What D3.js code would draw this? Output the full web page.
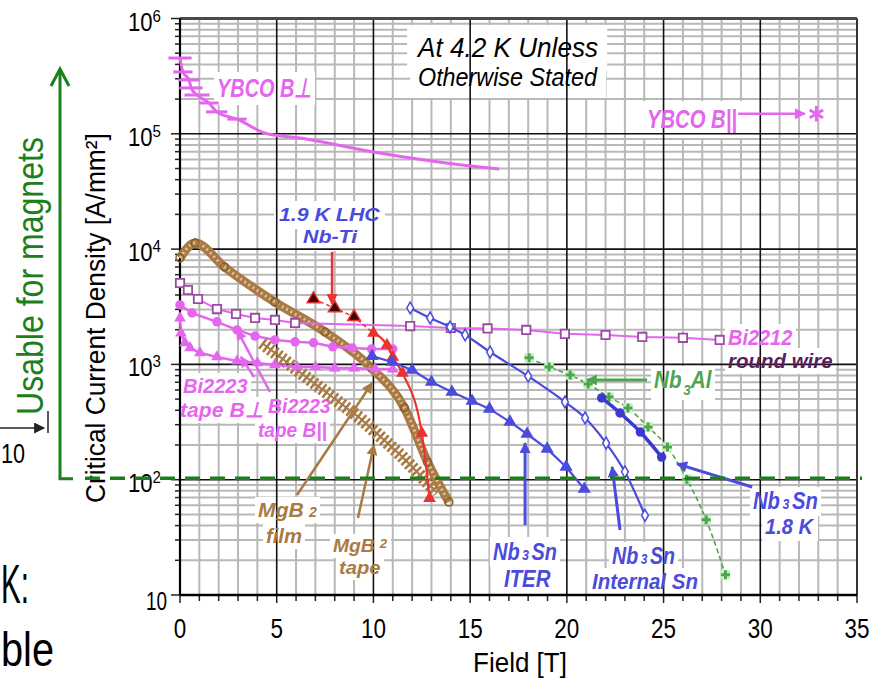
<!DOCTYPE html>
<html>
<head>
<meta charset="utf-8" />
<title>Critical current density vs field</title>
<script src="https://d3js.org/d3.v7.min.js"></script>
<style>
  body { margin: 0; background: #fff; }
  svg { display: block; }
</style>
</head>
<body>
<svg id="chart" width="880" height="678"></svg>
<script>
// values: field in T, Jc in A/mm2
var ybcoPerpField = [0, 0.15, 0.47, 0.57, 0.88, 1.5, 1.9, 2.95, 4.5, 6.2, 10, 15, 16.5];
var ybcoPerpJc = [454000, 344000, 293000, 250000, 217000, 185000, 155000, 134000, 100000, 92000, 69500, 52600, 49500];
var ybcoPerpErr = [0.6, 0.5, 0.55, 0.6, 0.65, 0.5, 0.55, 0.5];
var ybcoParField = [32.9];
var ybcoParJc = [149000];

var nbti19Field = [6.9, 8.0, 9.0];
var nbti19Jc = [3690, 3080, 2580];
var nbti42Field = [10.0, 10.7, 11.0, 11.5, 12.5, 12.9];
var nbti42Jc = [1870, 1470, 1160, 840, 254, 69];

var bi2212Field = [0, 0.41, 0.93, 1.91, 2.9, 3.88, 4.91, 5.95, 11.9, 14.0, 15.9, 17.9, 19.9, 22.0, 23.9, 26.0, 27.9];
var bi2212Jc = [5080, 4420, 3690, 3020, 2740, 2530, 2430, 2290, 2150, 2070, 2050, 1990, 1840, 1800, 1730, 1700, 1630];

var bi2223ParField = [0, 0.62, 1.91, 2.95, 3.88, 4.91, 5.95, 6.9, 7.9, 8.9, 9.9, 11.0];
var bi2223ParJc = [3280, 2790, 2340, 1990, 1760, 1630, 1570, 1540, 1420, 1390, 1360, 1360];
var bi2223PerpField = [0, 0.05, 0.26, 0.52, 1.03, 1.91, 2.95, 4.0, 4.9, 6.05, 7.0, 8.0, 9.0, 10.1, 11.0];
var bi2223PerpJc = [2520, 1870, 1540, 1390, 1260, 1160, 1070, 1030, 990, 950, 950, 930, 930, 910, 910];

var mgb2FilmField = [0, 0.78, 2.3, 4.9, 7.5, 9.9, 11.6, 12.8, 13.9];
var mgb2FilmJc = [8370, 11300, 7000, 3480, 1910, 930, 420, 142, 64];
var mgb2TapeField = [4.24, 6.72, 9.3, 11.4, 13.3];
var mgb2TapeJc = [1535, 733, 343, 164, 77];

var iterField = [9.93, 10.96, 12.0, 13.0, 14.06, 15.1, 16.0, 17.06, 17.94, 18.98, 19.96, 20.9];
var iterJc = [1180, 1050, 894, 703, 576, 481, 411, 317, 249, 185, 129, 83];
var intSnField = [11.9, 12.93, 13.96, 14.74, 16.03, 18.0, 19.9, 20.94, 22.03, 23.0, 24.04];
var intSnJc = [3090, 2530, 2110, 1800, 1280, 790, 472, 343, 208, 117, 49];
var nb3sn18Field = [21.8, 22.75, 23.8, 24.9];
var nb3sn18Jc = [512, 379, 259, 157];

var nb3alField = [18.05, 19.08, 20.17, 21.1, 22.18, 23.16, 24.2, 25.2, 26.2, 27.2, 28.2];
var nb3alJc = [1140, 950, 809, 676, 521, 419, 287, 192, 101, 45, 15];

var xTicks = [0, 5, 10, 15, 20, 25, 30, 35];
var yDecades = [1, 2, 3, 4, 5, 6];
var usableJc = 100;

var violet = "#e466ee", blue = "#4b4bdc", red = "#e8332e", brown = "#a97a44",
    green = "#4fa54f", darkGreen = "#1b801b";
var sans = "'Liberation Sans', Arial, sans-serif";

function pts(xs, ys) {
  return xs.map(function (v, i) { return { x: v, y: ys[i] }; });
}

var svg = d3.select("#chart");
var x = d3.scaleLinear().domain([0, 35]).range([180, 857]);
var y = d3.scaleLog().domain([10, 1e6]).range([595, 18.5]);

var defs = svg.append("defs");
function arrowMarker(id, color) {
  defs.append("marker")
    .attr("id", id)
    .attr("viewBox", "0 -5 10 10")
    .attr("refX", 9).attr("refY", 0)
    .attr("markerUnits", "userSpaceOnUse")
    .attr("markerWidth", 13).attr("markerHeight", 11)
    .attr("orient", "auto")
    .append("path").attr("d", "M0,-5L10,0L0,5Z").style("fill", color);
}
arrowMarker("arr-violet", violet);
arrowMarker("arr-blue", blue);
arrowMarker("arr-red", red);
arrowMarker("arr-brown", brown);
arrowMarker("arr-green", green);
arrowMarker("arr-black", "#222");

// grid
var grid = svg.append("g");
var minorY = [];
[10, 100, 1e3, 1e4, 1e5].forEach(function (d) {
  for (var m = 2; m <= 9; m++) minorY.push(m * d);
});
var minorX = d3.range(1, 35).filter(function (t) { return t % 5 !== 0; });

grid.selectAll(".hmin").data(minorY).enter().append("line")
  .attr("x1", x(0)).attr("x2", x(35))
  .attr("y1", function (d) { return y(d); }).attr("y2", function (d) { return y(d); })
  .style("stroke", "#b8b8b8").style("stroke-width", 2);
grid.selectAll(".vmin").data(minorX).enter().append("line")
  .attr("y1", y(1e6)).attr("y2", y(10))
  .attr("x1", function (d) { return x(d); }).attr("x2", function (d) { return x(d); })
  .style("stroke", "#b8b8b8").style("stroke-width", 2);

// white label boxes go here
var boxes = svg.append("g");

var majors = svg.append("g");
majors.selectAll(".hmaj").data([100, 1e3, 1e4, 1e5]).enter().append("line")
  .attr("x1", x(0)).attr("x2", x(35))
  .attr("y1", function (d) { return y(d); }).attr("y2", function (d) { return y(d); })
  .style("stroke", "#111").style("stroke-width", 1.6);
majors.selectAll(".vmaj").data([5, 10, 15, 20, 25, 30]).enter().append("line")
  .attr("y1", y(1e6)).attr("y2", y(10))
  .attr("x1", function (d) { return x(d); }).attr("x2", function (d) { return x(d); })
  .style("stroke", "#111").style("stroke-width", 1.6);

// frame and ticks
var frame = svg.append("g");
frame.append("line").attr("x1", x(0)).attr("x2", x(35)).attr("y1", y(1e6)).attr("y2", y(1e6))
  .style("stroke", "#4a4a4a").style("stroke-width", 3);
frame.append("line").attr("x1", x(35)).attr("x2", x(35)).attr("y1", y(1e6)).attr("y2", y(10))
  .style("stroke", "#333").style("stroke-width", 2);
frame.selectAll(".ytk").data(minorY.concat([10, 100, 1e3, 1e4, 1e5, 1e6])).enter().append("line")
  .attr("x1", function (d) { return Math.abs(Math.log10(d) % 1) < 1e-9 ? x(0) - 9 : x(0) - 5; })
  .attr("x2", x(0))
  .attr("y1", function (d) { return y(d); }).attr("y2", function (d) { return y(d); })
  .style("stroke", "#222").style("stroke-width", 1.5);
frame.selectAll(".xtk").data(d3.range(0, 36)).enter().append("line")
  .attr("x1", function (d) { return x(d); }).attr("x2", function (d) { return x(d); })
  .attr("y1", y(10)).attr("y2", function (d) { return d % 5 === 0 ? y(10) + 8 : y(10) + 6; })
  .style("stroke", "#222").style("stroke-width", 1.5);
frame.append("line").attr("x1", x(0)).attr("x2", x(0)).attr("y1", y(1e6)).attr("y2", y(10))
  .style("stroke", "#000").style("stroke-width", 2.2);
frame.append("line").attr("x1", x(0)).attr("x2", x(35)).attr("y1", y(10)).attr("y2", y(10))
  .style("stroke", "#000").style("stroke-width", 2.5);

// text helper: parts = [[text, size, dy, dx], ...]; width squeezes the text horizontally
var labels = svg.append("g");
function addText(parent, px, py, parts, o) {
  var t = parent.append("text").attr("x", 0).attr("y", 0)
    .attr("font-family", o.family || sans)
    .attr("font-size", o.size)
    .attr("font-weight", o.weight || "normal")
    .attr("font-style", o.style || "normal")
    .attr("text-anchor", o.anchor || "start")
    .style("fill", o.fill || "#000");
  if (typeof parts === "string") parts = [[parts]];
  parts.forEach(function (p) {
    var s = t.append("tspan").text(p[0]);
    if (p[1]) s.attr("font-size", p[1]);
    if (p[2]) s.attr("dy", p[2]);
    if (p[3]) s.attr("dx", p[3]);
  });
  var b = t.node().getBBox();
  var sx = o.width ? o.width / b.width : 1;
  var rot = o.rotate ? " rotate(" + o.rotate + ")" : "";
  t.attr("transform", "translate(" + px + "," + py + ")" + rot + " scale(" + sx + ",1)");
  if (o.box) {
    var pad = o.box;
    boxes.append("rect")
      .attr("x", px + b.x * sx - pad).attr("y", py + b.y - pad + 2)
      .attr("width", b.width * sx + 2 * pad).attr("height", b.height + 2 * pad - 3)
      .style("fill", "#fff");
  }
  return t;
}

// tick labels
yDecades.forEach(function (k) {
  var v = Math.pow(10, k);
  if (k === 1) {
    addText(labels, 167, y(v) + 15, "10", { size: 25, anchor: "end", width: 21 });
  } else {
    addText(labels, 161, y(v) + 12, [["10"], [String(k), 17, -9]], { size: 25, anchor: "end", width: 33 });
  }
});
xTicks.forEach(function (t) {
  addText(labels, x(t), 638, String(t), { size: 28, anchor: "middle", width: String(t).length * 12.5 });
});
addText(labels, 473, 672, "Field [T]", { size: 28, width: 94 });
addText(labels, 105, 503, "Critical Current Density [A/mm²]",
  { size: 28, width: 370, rotate: -90 });

// annotation box
addText(labels, 418, 57, "At 4.2 K Unless", { size: 28, style: "italic", width: 182, box: 9 });
addText(labels, 418, 86, "Otherwise Stated", { size: 25, style: "italic", width: 180, box: 8 });

// series labels
function lab(px, py, parts, w, size, color, box) {
  return addText(labels, px, py, parts, {
    size: size, width: w, fill: color, weight: "bold", style: "italic",
    box: box === undefined ? 3 : box
  });
}
lab(217, 97, "YBCO B⊥", 95, 26, violet);
lab(647, 128, "YBCO B||", 90, 25, violet, 6);
lab(279, 221, "1.9 K LHC", 101, 19, blue, 5);
lab(303, 243, "Nb-Ti", 55, 19, blue, 5);
lab(183, 393, "Bi2223", 65, 21, violet);
lab(180, 417, "tape B⊥", 83, 21, violet);
lab(268, 413, "Bi2223", 63, 21, violet);
lab(258, 437, "tape B||", 69, 21, violet);
lab(258, 517, [["MgB"], ["2", 14, 0, 5]], 59, 21, brown);
lab(266, 543, "film", 36, 21, brown);
lab(333, 552, [["MgB"], ["2", 13, -4, 5]], 55, 19, brown);
lab(339, 574, "tape", 42, 19, brown);
lab(493, 560, [["Nb"], ["3", 15, 0, 3], ["Sn", 24, 0, 3]], 64, 24, blue);
lab(504, 587, "ITER", 47, 24, blue);
lab(612, 564, [["Nb"], ["3", 14, 0, 3], ["Sn", 23, 0, 3]], 63, 23, blue);
lab(592, 589, "Internal Sn", 106, 22, blue);
lab(753, 509, [["Nb"], ["3", 14, 0, 3], ["Sn", 23, 0, 3]], 65, 23, blue);
lab(765, 534, "1.8 K", 50, 22, blue);
lab(654, 388, [["Nb"], ["3", 15, 7, 2], ["Al", 23, -7]], 58, 23, green);
lab(728, 345, "Bi2212", 65, 22, violet);
lab(728, 368, "round wire", 105, 21, "#5a1f5f");

// series
var plot = svg.append("g");
var line = d3.line().x(function (d) { return x(d.x); }).y(function (d) { return y(d.y); });
var smooth = d3.line().curve(d3.curveMonotoneX).x(function (d) { return x(d.x); }).y(function (d) { return y(d.y); });

function path(data, gen, color, width, dash) {
  return plot.append("path").datum(data).attr("d", gen)
    .style("fill", "none").style("stroke", color).style("stroke-width", width)
    .style("stroke-dasharray", dash || null).style("stroke-linejoin", "round");
}
function symbols(data, type, size, fill, stroke, sw) {
  plot.selectAll(null).data(data).enter().append("path")
    .attr("d", d3.symbol().type(type).size(size))
    .attr("transform", function (d) { return "translate(" + x(d.x) + "," + y(d.y) + ")"; })
    .style("fill", fill).style("stroke", stroke || "none").style("stroke-width", sw || 1);
}

// MgB2 tape: hatched band
var tape = pts(mgb2TapeField, mgb2TapeJc);
path(tape, line, brown, 13, "2.5,2.5");
path(tape, line, brown, 2);

// MgB2 film: thick band of circles
var film = pts(mgb2FilmField, mgb2FilmJc);
path(film, smooth, brown, 9);
path(film, smooth, "#dcc39e", 3, "2,3");
symbols(film, d3.symbolCircle, 50, "none", "#8a5e2c", 1.5);

// YBCO
var ybco = pts(ybcoPerpField, ybcoPerpJc);
path(ybco, smooth, violet, 3);
plot.selectAll(null).data(ybco.slice(0, ybcoPerpErr.length)).enter().append("line")
  .attr("x1", function (d, i) { return x(d.x - ybcoPerpErr[i]); })
  .attr("x2", function (d, i) { return x(d.x + ybcoPerpErr[i]); })
  .attr("y1", function (d) { return y(d.y); }).attr("y2", function (d) { return y(d.y); })
  .style("stroke", violet).style("stroke-width", 3);
var ybcoPar = pts(ybcoParField, ybcoParJc);
symbols(ybcoPar, d3.symbolAsterisk, 170, "none", violet, 3);

// Bi2223
var b23par = pts(bi2223ParField, bi2223ParJc);
path(b23par, line, violet, 2.5);
symbols(b23par, d3.symbolCircle, 70, violet);
var b23perp = pts(bi2223PerpField, bi2223PerpJc);
path(b23perp, line, violet, 2.5);
symbols(b23perp, d3.symbolTriangle, 60, violet);

// Bi2212
var b12 = pts(bi2212Field, bi2212Jc);
path(b12, line, violet, 2);
symbols(b12, d3.symbolSquare, 70, "#fff", "#9c4aa4", 1.8);

// Nb-Ti
var nbti19 = pts(nbti19Field, nbti19Jc);
path(nbti19.concat([{ x: nbti42Field[0], y: nbti42Jc[0] }]), line, red, 1.5, "4,3");
symbols(nbti19, d3.symbolTriangle, 70, "#3a0505", red, 1.5);
var nbti42 = pts(nbti42Field, nbti42Jc);
path(nbti42, smooth, red, 2.2);
symbols(nbti42, d3.symbolTriangle, 70, red);

// Nb3Sn
var iter = pts(iterField, iterJc);
path(iter, line, blue, 2.2);
symbols(iter, d3.symbolTriangle, 75, blue);
var intSn = pts(intSnField, intSnJc);
path(intSn, smooth, blue, 2.2);
symbols(intSn, d3.symbolDiamond, 40, "#fff", blue, 1.5);

// Nb3Al
var nb3al = pts(nb3alField, nb3alJc);
path(nb3al, smooth, green, 1.6, "5,3");
symbols(nb3al, d3.symbolSquare, 90, "#c6f2c0");
symbols(nb3al, d3.symbolCross, 45, green);

var nb18 = pts(nb3sn18Field, nb3sn18Jc);
path(nb18, smooth, "#3a3ad0", 3.5);
symbols(nb18, d3.symbolCircle, 70, "#3a3ad0");

// annotation arrows (ends given in field / Jc)
function arrow(f1, j1, f2, j2, color, id, w) {
  plot.append("line")
    .attr("x1", x(f1)).attr("y1", y(j1)).attr("x2", x(f2)).attr("y2", y(j2))
    .style("stroke", color).style("stroke-width", w || 2.5)
    .attr("marker-end", "url(#" + id + ")");
}
arrow(28.85, 149000, 32.3, 149000, violet, "arr-violet");
arrow(7.86, 9440, 7.86, 3350, red, "arr-red");
arrow(4.65, 577, 2.95, 1986, violet, "arr-violet");
arrow(3.83, 778, 3.15, 1159, violet, "arr-violet");
arrow(6.05, 73.6, 9.93, 690, brown, "arr-brown");
arrow(9.2, 46.6, 10.03, 200, brown, "arr-brown");
arrow(17.84, 40.5, 17.84, 208, blue, "arr-blue", 3);
arrow(22.75, 36.6, 22.34, 129, blue, "arr-blue", 3);
arrow(29.58, 86.5, 25.7, 137, blue, "arr-blue", 3);
arrow(24.15, 733, 21.04, 733, green, "arr-green", 3);

// "usable for magnets" overlay from the slide
var slide = svg.append("g");
slide.append("line").attr("x1", 85).attr("x2", 862).attr("y1", y(usableJc) - 1.5).attr("y2", y(usableJc) - 1.5)
  .style("stroke", darkGreen).style("stroke-width", 3.5).style("stroke-dasharray", "15,10");
slide.append("path").attr("d", "M60,70V" + (y(usableJc) - 1) + "H73")
  .style("fill", "none").style("stroke", darkGreen).style("stroke-width", 3);
slide.append("path").attr("d", "M51,86L60,69L69,86")
  .style("fill", "none").style("stroke", darkGreen).style("stroke-width", 3);
addText(slide, 43, 415, "Usable for magnets", { size: 37, width: 278, fill: darkGreen, rotate: -90 });
slide.append("line").attr("x1", 0).attr("x2", 44).attr("y1", 428).attr("y2", 428)
  .style("stroke", "#222").style("stroke-width", 1.5).attr("marker-end", "url(#arr-black)");
slide.append("line").attr("x1", 48).attr("x2", 48).attr("y1", 411).attr("y2", 433)
  .style("stroke", "#222").style("stroke-width", 1.5);
addText(slide, 25, 463, "10", { size: 28, anchor: "end", width: 24 });
addText(slide, 1, 603, "K:", { size: 56, width: 28 });
addText(slide, 1, 666, "ble", { size: 48, width: 53 });
</script>
</body>
</html>
